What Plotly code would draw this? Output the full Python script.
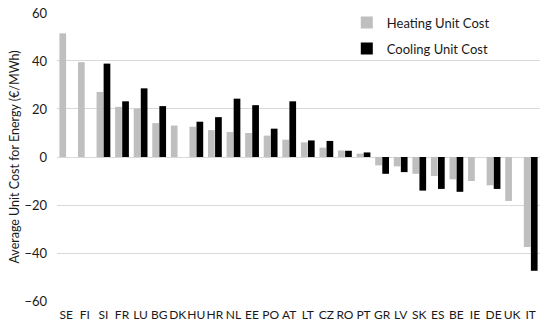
import plotly.graph_objects as go

countries = ["SE","FI","SI","FR","LU","BG","DK","HU","HR","NL","EE","PO","AT",
             "LT","CZ","RO","PT","GR","LV","SK","ES","BE","IE","DE","UK","IT"]
heating = [51.5, 39.5, 27.1, 20.9, 20.2, 14.1, 13.1, 12.6, 11.2, 10.4, 10.0, 8.9, 7.2,
           6.1, 3.9, 2.7, 1.4, -3.5, -3.9, -7.0, -7.9, -9.3, -10.0, -11.8, -18.3, -37.5]
cooling = [None, None, 38.9, 23.2, 28.6, 21.2, None, 14.7, 16.6, 24.3, 21.6, 11.8, 23.2,
           6.9, 6.7, 2.6, 1.9, -7.0, -6.3, -14.0, -13.3, -14.5, None, -13.3, None, -47.4]
y_ticks = [-60, -40, -20, 0, 20, 40, 60]

fig = go.Figure()
fig.add_trace(go.Bar(x=countries, y=heating, name="Heating Unit Cost",
                     marker=dict(color="#bfbfbf", line=dict(width=0)), legendgroup="h"))
fig.add_trace(go.Bar(x=countries, y=cooling, name="Cooling Unit Cost",
                     marker=dict(color="#000000", line=dict(width=0)), legendgroup="c"))

fig.update_layout(
    width=550, height=330,
    margin=dict(l=57, r=10, t=12, b=28, autoexpand=False),
    paper_bgcolor="white", plot_bgcolor="white",
    font=dict(family="Lato", size=13, color="#1a1a1a"),
    barmode="group", bargap=0.24, bargroupgap=0.05,
    showlegend=True,
    legend=dict(x=0.60, y=1.015, xanchor="left", yanchor="top",
                bgcolor="rgba(0,0,0,0)", font=dict(size=13),
                tracegroupgap=6, traceorder="grouped",
                itemwidth=30),
)
fig.update_yaxes(range=[-60.4, 60.4], tickvals=y_ticks, showgrid=True, gridcolor="#d9d9d9",
                 gridwidth=1, zeroline=True, zerolinecolor="#d9d9d9", zerolinewidth=1,
                 showline=False, ticks="", tickfont=dict(size=13), automargin=False,
                 ticklabelstandoff=9, ticklabeloverflow="allow",
                 title=dict(text="Average Unit Cost for Energy (€/MWh)", font=dict(size=12.5),
                            standoff=2))
fig.update_xaxes(showline=False, ticks="", tickfont=dict(size=12), tickangle=0,
                 showgrid=False, automargin=False, ticklabelstandoff=4)

fig.write_html("out.html",
               config={"displayModeBar": False},
               post_script="document.body.style.margin='0';")
